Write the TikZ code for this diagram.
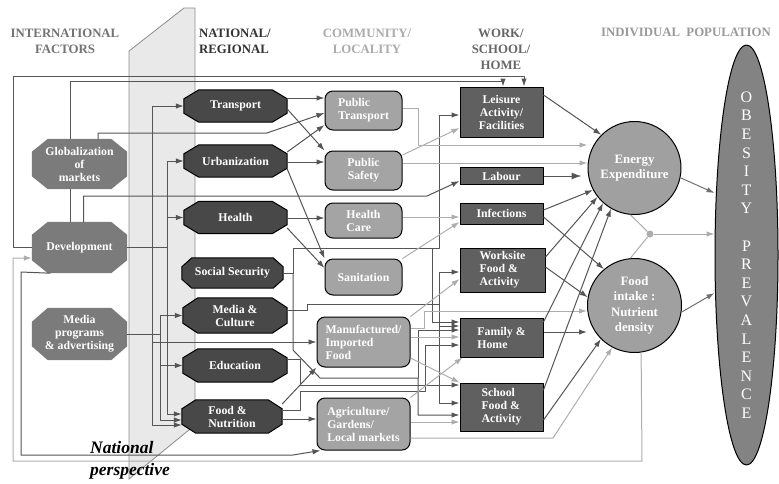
\documentclass[tikz,border=0pt]{standalone}
\usepackage{fontspec}
\setmainfont{Liberation Serif}
\usetikzlibrary{shapes.geometric,arrows.meta,calc,positioning,backgrounds}

\definecolor{intlfill}{HTML}{7B7B7B}
\definecolor{natfill}{HTML}{484848}
\definecolor{commfill}{HTML}{A4A4A4}
\definecolor{workfill}{HTML}{606060}
\definecolor{indfill}{HTML}{A0A0A0}
\definecolor{popfill}{HTML}{838383}
\definecolor{dkline}{HTML}{555555}
\definecolor{mdline}{HTML}{707070}
\definecolor{ltline}{HTML}{ADADAD}
\definecolor{bandfill}{HTML}{E9E9E9}
\definecolor{bandline}{HTML}{8C8C8C}

\tikzset{
  lbl/.style={text=white,font=\bfseries\fontsize{11.8}{13}\selectfont,align=center,inner sep=1pt},
  intl/.style={lbl,rectangle,minimum width=95pt},
  natl/.style={lbl,rectangle,minimum width=103pt,minimum height=32pt},
  intloct/.style={fill=intlfill},
  natloct/.style={fill=natfill,draw=black,line width=1pt},
  comm/.style={lbl,rectangle,rounded corners=8pt,fill=commfill,draw=black,line width=1pt,minimum width=77pt,minimum height=39pt},
  work/.style={lbl,rectangle,fill=workfill,draw=black,line width=1pt,minimum width=83pt},
  indiv/.style={lbl,circle,fill=indfill,draw=black,line width=1pt,minimum size=94pt,inner sep=0pt,font=\bfseries\fontsize{12.8}{15.5}\selectfont},
  hdr/.style={font=\bfseries\fontsize{12.8}{16}\selectfont,align=center,inner sep=0pt},
  dk/.style={draw=dkline,line width=1pt},
  lt/.style={draw=ltline,line width=1pt},
  md/.style={draw=mdline,line width=1pt},
}

\begin{document}
\begin{tikzpicture}[x=1pt,y=-1pt,line join=round,>={Latex[length=8pt,width=5.5pt]}]
\useasboundingbox (0,0) rectangle (779,483);

% headers
\node[hdr,text=black!55] (hintl) at (65,41) {INTERNATIONAL\\FACTORS};
\node[hdr,text=black!80,align=left] (hnat) at (235,41) {NATIONAL/\\REGIONAL};
\node[hdr,text=black!33] (hcomm) at (367,41) {COMMUNITY/\\LOCALITY};
\node[hdr,text=black!60] (hwork) at (501,49) {WORK/\\SCHOOL/\\HOME};
\node[hdr,text=black!40] (hind) at (686,32) {INDIVIDUAL\ \ POPULATION};

% international factors
\node[intl,minimum height=50pt] (glob) at (79.5,164) {Globalization\\of\\markets};
\node[intl,minimum height=51pt] (dev) at (79.5,247.5) {Development};
\node[intl,minimum height=52pt] (mprog) at (79.5,334) {Media\\programs\\\& advertising};

% national / regional
\node[natl] (trans) at (235.5,106) {Transport};
\node[natl] (urban) at (235.5,161) {Urbanization};
\node[natl] (health) at (235.5,217.5) {Health};
\node[natl,minimum width=101pt,minimum height=30pt] (socsec) at (232.5,273) {Social Security};
\node[natl,minimum width=104pt,minimum height=35pt] (mcult) at (235,315.5) {Media \&\\Culture};
\node[natl,minimum width=104pt,minimum height=33pt] (educ) at (235,365.5) {Education};
\node[natl,minimum width=100pt,minimum height=33pt,align=left] (foodnut) at (232,416.5) {Food \&\\Nutrition};

% octagons and band behind
\begin{scope}[on background layer]
\draw[draw=bandline,fill=bandfill,line width=0.8pt] (129,51) -- (184,8) -- (195,8) -- (195,425) -- (129,479) -- cycle;
\foreach \n/\cx/\cy in {glob/16/13,dev/16/13,mprog/16/14}
  \path[intloct] ($(\n.north west)+(\cx,0)$) -- ($(\n.north east)+(-\cx,0)$) -- ($(\n.north east)+(0,\cy)$) -- ($(\n.south east)+(0,-\cy)$)
    -- ($(\n.south east)+(-\cx,0)$) -- ($(\n.south west)+(\cx,0)$) -- ($(\n.south west)+(0,-\cy)$) -- ($(\n.north west)+(0,\cy)$) -- cycle;
\foreach \n/\cx/\cy in {trans/15/9,urban/15/9,health/15/9,socsec/10/9,mcult/15/10,educ/15/9,foodnut/14/9}
  \path[natloct] ($(\n.north west)+(\cx,0)$) -- ($(\n.north east)+(-\cx,0)$) -- ($(\n.north east)+(0,\cy)$) -- ($(\n.south east)+(0,-\cy)$)
    -- ($(\n.south east)+(-\cx,0)$) -- ($(\n.south west)+(\cx,0)$) -- ($(\n.south west)+(0,-\cy)$) -- ($(\n.north west)+(0,\cy)$) -- cycle;
\end{scope}

% community / locality
\node[comm,align=left] (ptrans) at (363.5,110.5) {Public\\Transport};
\node[comm] (psafe) at (363.5,170.5) {Public\\Safety};
\node[comm,minimum height=35pt,align=left] (hcare) at (363.5,220.5) {Health\\Care};
\node[comm,minimum height=36pt] (sanit) at (363.5,277) {Sanitation};
\node[comm,minimum width=93pt,minimum height=50pt,align=left] (manuf) at (363.5,342) {Manufactured/\\Imported\\Food};
\node[comm,minimum width=93pt,minimum height=52pt,align=left] (agri) at (363.5,424) {Agriculture/\\Gardens/\\Local markets};

% work / school / home
\node[work,minimum height=50pt] (leis) at (501.5,112) {Leisure\\Activity/\\Facilities};
\node[work,minimum height=17pt] (labour) at (501.5,176) {Labour};
\node[work,minimum height=21pt] (infect) at (501.5,213.5) {Infections};
\node[work,minimum width=85pt,minimum height=44pt,align=left] (works) at (502.5,270) {Worksite\\Food \&\\Activity};
\node[work,minimum height=39pt,align=left] (family) at (501.5,337.5) {Family \&\\Home};
\node[work,minimum height=48pt,align=left] (school) at (501.5,407) {School\\Food \&\\Activity};

% individual / population
\node[indiv,minimum size=93pt] (energy) at (634.5,168) {Energy\\Expenditure};
\node[indiv] (foodin) at (634.5,305.5) {Food\\intake :\\Nutrient\\density};
\node[circle,fill=ltline,inner sep=0pt,minimum size=7pt] (jct) at (650,234) {};
\node[ellipse,draw=black,line width=1pt,fill=popfill,minimum width=63pt,minimum height=420pt,inner sep=0pt] (obes) at (746.5,255) {};
\node[text=white,align=center,inner sep=0pt,font=\fontsize{16}{18.6}\selectfont] (obestxt) at (obes.center) {O\\B\\E\\S\\I\\T\\Y\\[18.6pt]P\\R\\E\\V\\A\\L\\E\\N\\C\\E};

\node[font=\bfseries\itshape\fontsize{17.5}{22}\selectfont,align=left,inner sep=0pt,anchor=west] (natpersp) at (90,460) {National\\perspective};

% international -> national
\draw[dk,->] (dev.west) -- (13,247.5) -- (13,76) -| ([xshift=22.5pt]leis.north);
\draw[dk,->] ([xshift=-9.5pt]glob.north) -- (70,81) -| ([xshift=1.5pt]leis.north);
\draw[dk] ([xshift=-9.5pt]glob.south) -- ([xshift=-9.5pt]dev.north);
\draw[dk,->] ([xshift=18.5pt]glob.north) |- (267,133) -- (ptrans.west |- 0,113);
\draw[dk,->] (152,133) |- (trans.west);
\draw[dk,->] (152,133) |- (foodnut.west |- 0,425);
\draw[dk,->] (152,342) -- (manuf.west |- 0,342);
\draw[dk] (dev.east) -- (167,247.5);
\draw[dk,->] (167,247.5) |- (urban.west);
\draw[dk,->] (167,247.5) |- (health.west);
\draw[dk,->] (167,247.5) |- (foodnut.west |- 0,414);
\draw[dk] (mprog.east) -- (160,334);
\draw[dk,->] (160,334) |- (mcult.west);
\draw[dk,->] (160,334) |- (educ.west);
\draw[dk,->] (160,334) |- (foodnut.west |- 0,420);
\draw[dk,->] ([xshift=4pt]dev.north) |- (427,196) -- ([yshift=-5pt]labour.west);
\draw[dk,->] ([xshift=-29pt]dev.south) -- (21,272) -- (21,455) -- (293,455) -- ([xshift=4pt]agri.south west);
\draw[lt,->] (foodin.-82) -- (642,461) -- (13,461) -- (13,258) -- (dev.west |- 0,258);

% national -> community
\draw[dk,->] (trans.east |- 0,98) -- (ptrans.west |- 0,98);
\draw[dk,->] (trans.east |- 0,109) -- (psafe.north west);
\draw[dk,->] (urban.east |- 0,152) -- (ptrans.west |- 0,125);
\draw[dk,->] (urban.east |- 0,162) -- (psafe.west |- 0,162);
\draw[dk,->] (urban.east |- 0,169) -- (sanit.north west);
\draw[dk,->] (health.east |- 0,218) -- (hcare.west |- 0,218);
\draw[dk,->] (health.east |- 0,228) -- (sanit.west |- 0,268);

% national -> work / school / home
\draw[dk,->] (socsec.east) -- (293,273) |- (439,248) |- (leis.west |- 0,115);
\draw[dk,->] (432,248) |- (family.west |- 0,322);
\draw[dk,->] (293,273) -- (293,350) -- (320,378) -| (418,415) -- (school.west |- 0,415);
\draw[dk,->] (418,378) |- (family.west |- 0,330);
\draw[dk] (mcult.east |- 0,310) -- (307,310) -- (307,304) -- (439,304);
\draw[dk,->] (439,304) |- (works.west |- 0,272);
\draw[dk,->] (439,304) |- (family.west |- 0,326);
\draw[dk,->] (439,304) |- (school.west |- 0,403);
\draw[dk,->] (educ.east |- 0,359) -- (300,359) |- (school.west |- 0,385);
\draw[dk,->] (foodnut.east |- 0,410) -- (300,410) |- (425,391) |- (family.west |- 0,345);
\draw[dk,->] (foodnut.east |- 0,419) -- (agri.west |- 0,419);
\draw[dk,->] (foodnut.east |- 0,404) -- (manuf.south west);

% community -> work / individual
\draw[lt,->] (ptrans.east |- 0,108) -- (418,108) |- (energy.west |- 0,145);
\draw[lt,->] (psafe.east |- 0,163) -- (energy.west |- 0,163);
\draw[lt,->] (psafe.east |- 0,155) -- (leis.west |- 0,128);
\draw[lt,->] (hcare.east |- 0,217) -- (infect.west |- 0,217);
\draw[lt,->] (sanit.north east) -- (infect.west |- 0,222);
\draw[lt,->] (manuf.east |- 0,328) -- (424,328) |- (foodin.west |- 0,311);
\draw[lt,->] (manuf.east |- 0,337) -- (family.west |- 0,337);
\draw[lt,->] (manuf.north east) -- (works.west |- 0,279);
\draw[lt,->] (manuf.east |- 0,358) -- (school.north west);
\draw[lt,->] (agri.east |- 0,422) -- (school.west |- 0,422);
\draw[lt,->] (agri.north east) -- ([xshift=3pt]family.south west);
\draw[lt,->] (agri.east |- 0,438) -- (553,438) -- (foodin.-118);

% work -> individual
\draw[dk,->] (leis.east |- 0,95) -- (energy.135);
\draw[dk,->,>={Latex[length=10pt,width=7pt]}] (labour.east) -- ([xshift=-6pt]energy.west |- 0,176);
\draw[dk,->] (infect.east |- 0,210) -- (energy.208);
\draw[dk,->] (infect.east |- 0,217) -- (foodin.130);
\draw[dk,->] (works.east |- 0,257) -- (energy.218);
\draw[dk,->] (works.east |- 0,267) -- (foodin.170);
\draw[dk,->] (family.east |- 0,322) -- (energy.228);
\draw[dk,->] (family.east |- 0,332) -- (foodin.west |- 0,332);
\draw[dk,->] (school.east |- 0,390) -- (energy.240);
\draw[dk,->] (school.east |- 0,420) -- (foodin.-135);

% individual -> population
\draw[md,->] (energy.-12) -- (obes.west |- 0,193);
\draw[lt] (energy.-95) -- (jct);
\draw[lt] (foodin.95) -- (jct);
\draw[lt,->] (jct) -- (obes.west |- 0,234);
\draw[md,->] (foodin.-8) -- (obes.west |- 0,293);
\end{tikzpicture}
\end{document}
